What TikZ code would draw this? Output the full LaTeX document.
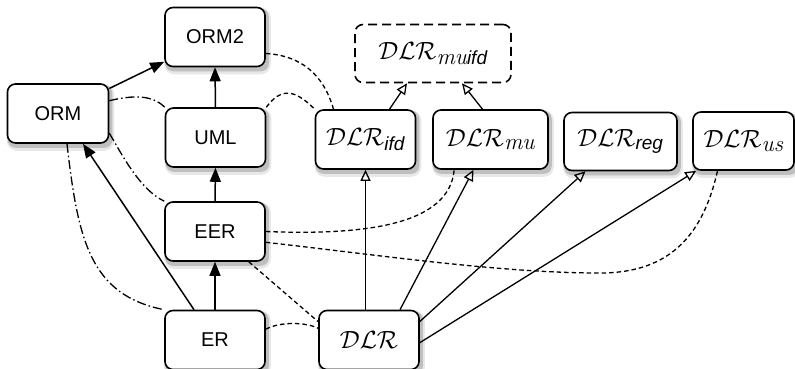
\documentclass[tikz,border=0pt]{standalone}
\usepackage{amsmath}
\usepackage{fontspec}
\setmainfont{Liberation Sans}
\newfontfamily\lmitfont{Latin Modern Roman}
\usetikzlibrary{arrows.meta,calc,backgrounds}
\newcommand{\subsf}[1]{\mbox{\fontsize{19}{20}\selectfont\itshape #1}}
\newcommand{\subit}[1]{\mbox{\fontsize{23}{24}\selectfont\lmitfont\itshape #1}}
\begin{document}
\begin{tikzpicture}[x=1pt,y=-1pt,
  basebox/.style={line width=1.6pt,rounded corners=8pt,fill=white,
    minimum width=100pt,minimum height=59pt,inner sep=0pt,
    font=\fontsize{20}{24}\selectfont},
  box/.style={basebox,draw},
  dbox/.style={box,font=\fontsize{26}{30}\selectfont},
  ghostbox/.style={basebox,draw,dash pattern=on 9pt off 5pt,
    font=\fontsize{26}{30}\selectfont},
  shadowA/.style={fill=black!9,rounded corners=10pt},
  shadowB/.style={fill=black!25,rounded corners=8pt},
  arr/.style={line width=1.5pt,-{Triangle[length=14pt,width=11pt]}},
  oarr/.style={line width=1.3pt,-{Triangle[open,length=11pt,width=10pt]}},
  dsh/.style={line width=1.3pt,dash pattern=on 4.5pt off 3pt},
  dd/.style={line width=1.3pt,dash pattern=on 9pt off 3pt on 1.5pt off 3pt}
]
\useasboundingbox (0,0) rectangle (795,368);

\node[box] (ORM2) at (215,37) {ORM2};
\node[box,minimum width=101pt] (ORM) at (58,113.5) {ORM};
\node[box] (UML) at (215.5,137.5) {UML};
\node[box] (EER) at (215,231.5) {EER};
\node[box] (ER) at (215,340) {ER};
\node[dbox] (DLR) at (369,340) {$\mathcal{DLR}$};
\node[ghostbox,minimum width=156pt,minimum height=58pt] (MUIFD) at (433,53.5) {$\mathcal{DLR}_{\subit{mu}\subsf{ifd}}$};
\node[dbox] (DLRifd) at (365.5,139.5) {$\mathcal{DLR}_{\subsf{ifd}}$};
\node[dbox,minimum width=115pt] (DLRmu) at (490.5,139.5) {$\mathcal{DLR}_{\subit{mu}}$};
\node[dbox,minimum width=113pt,minimum height=58pt] (DLRreg) at (620.5,141.5) {$\mathcal{DLR}_{\subsf{reg}}$};
\node[dbox,minimum width=101pt,minimum height=58pt] (DLRus) at (743.5,141) {$\mathcal{DLR}_{\subit{us}}$};

% shadows
\begin{pgfonlayer}{background}
\foreach \n in {ORM2,ORM,UML,EER,ER,DLR,DLRifd,DLRmu,DLRreg,DLRus}{
  \fill[shadowA] ([xshift=0pt,yshift=-7pt]\n.south west) rectangle ([xshift=5pt,yshift=-1pt]\n.north east);
  \fill[shadowB] ([xshift=1pt,yshift=-4pt]\n.south west) rectangle ([xshift=3pt,yshift=-2pt]\n.north east);
}
\end{pgfonlayer}

% solid arrows
\draw[arr] (ORM.26) -- (ORM2.206);
\draw[arr] (UML.north) -- (ORM2.south);
\draw[arr] (EER.north) -- (UML.south);
\draw[arr] (ER.north) -- (EER.south);
\draw[arr] ([xshift=-21pt]ER.north) -- ([xshift=25pt]ORM.south);

% open arrows
\draw[oarr] (DLRifd.south |- DLR.north) -- (DLRifd.south);
\draw[oarr] ([xshift=31pt]DLR.north) -- ([xshift=-17pt]DLRmu.south);
\draw[oarr] (DLR.20) -- ([xshift=-35pt]DLRreg.south);
\draw[oarr] (DLR.-3) -- ([xshift=4pt]DLRus.south west);
\draw[oarr] ([xshift=24pt]DLRifd.north) -- ([xshift=-26pt]MUIFD.south);
\draw[oarr] ([xshift=-8pt]DLRmu.north) -- ([xshift=29pt]MUIFD.south);

% dashed
\draw[dsh] (ORM2.-18) .. controls +(35,2) and +(-10,-35) .. ([xshift=-32pt]DLRifd.north);
\draw[dsh] (UML.north east) .. controls +(15,-20) and +(-20,-20) .. (DLRifd.north west);
\draw[dsh] (EER.east) .. controls +(100,4) and +(-5,55) .. ([xshift=22pt]DLRmu.south west);
\draw[dsh] (EER.-12) .. controls +(115,13) and (500,273) .. (600,273)
  .. controls (670,273) and (703,235) .. ([xshift=-26pt]DLRus.south);
\draw[dsh] ([xshift=-17pt]EER.south east) -- ([yshift=-12pt]DLR.north west);
\draw[dsh] (ER.12) .. controls +(15,-8) and +(-12,-6) .. (DLR.167);

% dash-dot
\draw[dd] (ORM.14) .. controls +(25,-6) and +(-12,-12) .. (UML.north west);
\draw[dd] (ORM.-21) .. controls +(12,20) and +(-25,-12) .. (EER.north west);
\draw[dd] ([xshift=9pt]ORM.south) .. controls (78,240) and (90,295) .. (ER.north west);
\end{tikzpicture}
\end{document}
